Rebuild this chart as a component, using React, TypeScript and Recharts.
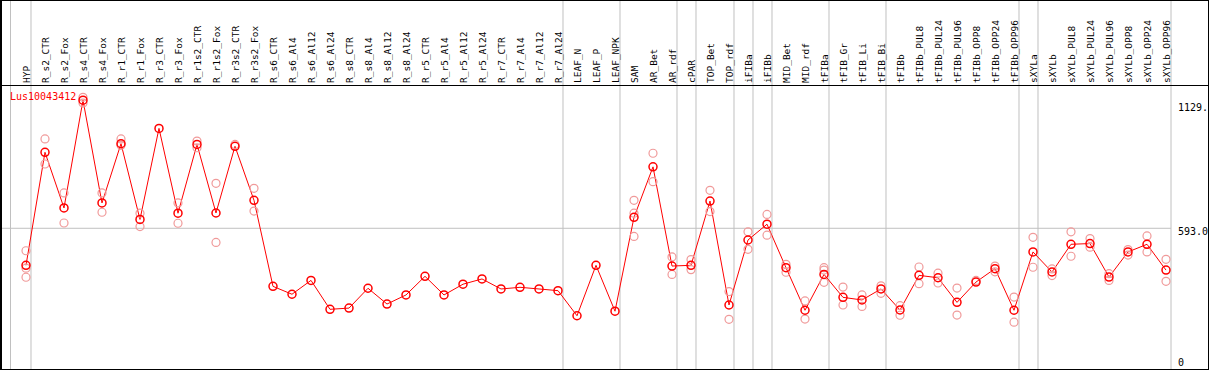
import React from "react";
import { ComposedChart, Line, XAxis, YAxis, ReferenceLine } from "recharts";

const categories = [
  "HYP", "R_s2_CTR", "R_s2_Fox", "R_s4_CTR", "R_s4_Fox", "R_r1_CTR", "R_r1_Fox",
  "R_r3_CTR", "R_r3_Fox", "R_r1s2_CTR", "R_r1s2_Fox", "R_r3s2_CTR", "R_r3s2_Fox",
  "R_s6_CTR", "R_s6_Al4", "R_s6_Al12", "R_s6_Al24", "R_s8_CTR", "R_s8_Al4",
  "R_s8_Al12", "R_s8_Al24", "R_r5_CTR", "R_r5_Al4", "R_r5_Al12", "R_r5_Al24",
  "R_r7_CTR", "R_r7_Al4", "R_r7_Al12", "R_r7_Al24", "LEAF_N", "LEAF_P", "LEAF_NPK",
  "SAM", "AR_Bet", "AR_rdf", "cPAR", "TOP_Bet", "TOP_rdf", "iFIBa", "iFIBb",
  "MID_Bet", "MID_rdf", "tFIBa", "tFIB_Gr", "tFIB_Li", "tFIB_Bi", "tFIBb",
  "tFIBb_PUL8", "tFIBb_PUL24", "tFIBb_PUL96", "tFIBb_OPP8", "tFIBb_OPP24", "tFIBb_OPP96",
  "sXYLa", "sXYLb", "sXYLb_PUL8", "sXYLb_PUL24", "sXYLb_PUL96", "sXYLb_OPP8",
  "sXYLb_OPP24", "sXYLb_OPP96",
];

// mean expression per sample
const means = [
  438, 911, 678, 1129, 699, 947, 630, 1011, 656, 944, 657, 936, 710,
  350, 317, 375, 254, 259, 342, 276, 314, 392, 314, 359, 381, 339, 346, 339, 332,
  227, 438, 246,
  639, 850, 435, 438, 707, 272, 544, 610, 428, 250, 400, 304, 293, 339,
  251, 396, 386, 283, 368, 424, 250,
  494, 410, 526, 529, 389, 494, 526, 418,
];

// replicates
const rep1 = [
  499, 967, 741, 1141, 741, 967, 656, null, 699, 958, 781, 944, 760,
  null, null, null, null, null, null, null, null, null, null, null, null, null, null, null, null,
  null, null, null,
  710, 907, 473, 462, 752, 328, 578, 651, 442, 289, 428, 347, 314, 352,
  269, 431, 405, 343, 375, 435, 305,
  555, 423, 578, 550, 403, 504, 561, 463,
];
const rep2 = [
  388, 862, 615, 1117, 660, 940, 600, null, 614, 930, 534, null, 665,
  null, null, null, null, null, null, null, null, null, null, null, null, null, null, null, null,
  null, null, null,
  559, 788, 400, 420, 663, 212, 505, 564, 409, 213, 367, 272, 266, 321,
  229, 361, 364, 230, null, 411, 200,
  430, 395, 476, 514, 375, 481, 494, 371,
];
const rep3 = [
  426, null, null, null, null, null, null, null, null, null, null, null, null,
  null, null, null, null, null, null, null, null, null, null, null, null, null, null, null, null,
  null, null, null,
  656, null, null, null, null, null, null, null, null, null, 418, null, null, null,
  null, null, null, null, null, null, null,
  null, null, null, null, null, null, null, null,
];

// last sample index of each group (a separator follows it)
const groupEnds = [0, 28, 31, 34, 35, 37, 38, 39, 42, 45, 52, 53, 60];
const yTicks = [0, 593, 1129];
const yTickLabels = ["0", "593.0", "1129."];
const geneName = "Lus10043412";

const data = categories.map((name, i) => ({
  x: i,
  name,
  mean: means[i],
  r1: rep1[i],
  r2: rep2[i],
  r3: rep3[i],
}));

const X_MIN = -0.842;
const X_MAX = 60.263;
const FONT = "'DejaVu Sans Mono', monospace";

function HeaderTick({ x, payload }: any) {
  return (
    <text
      transform={`translate(${x + 4},83) rotate(-90)`}
      fontSize={9.5}
      fontFamily={FONT}
      fill="#000"
    >
      {categories[payload.value]}
    </text>
  );
}

function ValueTick({ x, y, payload }: any) {
  const v = payload.value;
  const dy = v === 0 ? -8 : v === 1129 ? 7.5 : 3.5;
  return (
    <text x={x} y={y + dy} dominantBaseline="central" fontSize={10} fontFamily={FONT} fill="#000">
      {yTickLabels[yTicks.indexOf(v)]}
    </text>
  );
}

const mainDot = (p: any) =>
  p.cy == null ? (
    <g key={p.index} />
  ) : (
    <circle key={p.index} cx={p.cx} cy={p.cy} r={4} stroke="#ff0000" strokeWidth={1.5} fill="none" />
  );

const repDot = (p: any) =>
  p.cy == null || p.value == null ? (
    <g key={p.index} />
  ) : (
    <circle key={p.index} cx={p.cx} cy={p.cy} r={4} stroke="#f09a9a" strokeWidth={1.2} fill="none" />
  );

const separators = groupEnds.map((g) => g + 0.263);

export default function App() {
  return (
    <div style={{ position: "relative", width: 1209, height: 370 }}>
      <style>{`body{margin:0}`}</style>
      <ComposedChart width={1209} height={370} data={data} margin={{ top: 0, right: 0, bottom: 0, left: 10 }}>
        <XAxis
          dataKey="x"
          type="number"
          orientation="top"
          height={1}
          domain={[X_MIN, X_MAX]}
          allowDataOverflow
          ticks={categories.map((_, i) => i)}
          interval={0}
          tick={HeaderTick}
          axisLine={false}
          tickLine={false}
        />
        <YAxis
          orientation="right"
          width={38}
          domain={[0, 1544]}
          allowDataOverflow
          ticks={yTicks}
          interval={0}
          tick={ValueTick}
          tickMargin={1}
          axisLine={false}
          tickLine={false}
        />
        <ReferenceLine
          segment={[{ x: X_MIN - 0.53, y: 593 }, { x: X_MAX, y: 593 }]}
          stroke="#c0c0c0"
          ifOverflow="visible"
        />
        {separators.map((s) => (
          <ReferenceLine
            key={s}
            segment={[{ x: s, y: -10 }, { x: s, y: 1600 }]}
            stroke="#c0c0c0"
            ifOverflow="visible"
          />
        ))}
        <Line dataKey="r1" stroke="none" dot={repDot} activeDot={false} isAnimationActive={false} />
        <Line dataKey="r2" stroke="none" dot={repDot} activeDot={false} isAnimationActive={false} />
        <Line dataKey="r3" stroke="none" dot={repDot} activeDot={false} isAnimationActive={false} />
        <Line
          dataKey="mean"
          stroke="#ff0000"
          strokeWidth={1}
          dot={mainDot}
          activeDot={false}
          isAnimationActive={false}
        />
      </ComposedChart>
      {/* left frame line of the sample area */}
      <div
        style={{
          position: "absolute",
          left: 10,
          top: 0,
          width: 1,
          height: 370,
          background: "#c0c0c0",
          pointerEvents: "none",
        }}
      />
      <div
        style={{
          position: "absolute",
          left: 0,
          top: 85,
          width: 1209,
          height: 1,
          background: "#000",
          pointerEvents: "none",
        }}
      />
      <div
        style={{
          position: "absolute",
          left: 10,
          top: 91,
          color: "#ff0000",
          fontFamily: FONT,
          fontSize: 10,
          lineHeight: "12px",
          pointerEvents: "none",
        }}
      >
        {geneName}
      </div>
      <div
        style={{
          position: "absolute",
          inset: 0,
          borderTop: "1px solid #000",
          borderRight: "1px solid #000",
          borderBottom: "1px solid #000",
          borderLeft: "2px solid #000",
          boxSizing: "border-box",
          pointerEvents: "none",
        }}
      />
    </div>
  );
}
